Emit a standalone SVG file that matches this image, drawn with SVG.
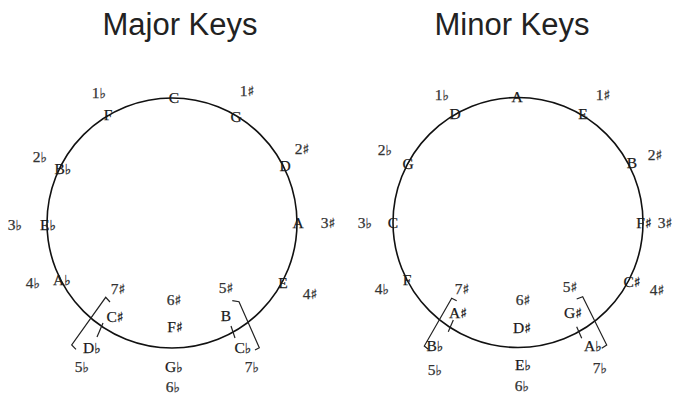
<svg xmlns="http://www.w3.org/2000/svg" width="676" height="395" viewBox="0 0 676 395">
<style>
.title{font-family:"Liberation Sans",Arial,sans-serif;font-size:31px;fill:#222;text-anchor:middle}
.n,.c{font-family:"Liberation Serif","DejaVu Serif",serif;font-size:15.5px;fill:#1a1a1a;stroke:#1a1a1a;stroke-width:0.25;text-anchor:middle}
.c{fill:#333;stroke:#333}
.a{font-family:"DejaVu Sans",sans-serif;font-size:14px}
.ring{fill:none;stroke:#111;stroke-width:1.6}
.br{fill:none;stroke:#222;stroke-width:1.2}
</style>
<rect width="676" height="395" fill="#fff"/>
<text class="title" x="180" y="35">Major Keys</text>
<text class="title" x="512" y="35">Minor Keys</text>

<g id="major-circle"><circle class="ring" cx="172" cy="223" r="125"/></g>
<g id="minor-circle"><circle class="ring" cx="518" cy="222.5" r="125"/></g>

<g id="connectors">
  <polyline class="br" points="110,302 105.7,297.3 71.7,345 76,349.3"/>
  <line class="br" x1="103" y1="323" x2="97" y2="337"/>
  <polyline class="br" points="232.3,300.7 239,301.7 259.3,347.7 255,350"/>
  <line class="br" x1="231" y1="326" x2="235" y2="338"/>
  <polyline class="br" points="456.7,300.7 451.7,298.3 424.3,346 428.3,349.3"/>
  <line class="br" x1="453.3" y1="320" x2="448.3" y2="331.7"/>
  <polyline class="br" points="576.7,299 582.7,296.7 606.7,345 601.7,348.3"/>
  <line class="br" x1="576.7" y1="326.7" x2="581.7" y2="338.3"/>
</g>

<g id="major">
  <g id="maj-C"><text class="n" x="174" y="103">C</text></g>
  <g id="maj-G"><text class="n" x="236" y="122">G</text><text class="c" x="247" y="96">1<tspan class="a">♯</tspan></text></g>
  <g id="maj-D"><text class="n" x="285" y="171">D</text><text class="c" x="302" y="154">2<tspan class="a">♯</tspan></text></g>
  <g id="maj-A"><text class="n" x="298" y="228">A</text><text class="c" x="328" y="228">3<tspan class="a">♯</tspan></text></g>
  <g id="maj-E"><text class="n" x="283" y="288">E</text><text class="c" x="310" y="299">4<tspan class="a">♯</tspan></text></g>
  <g id="maj-B"><text class="n" x="226" y="321">B</text><text class="c" x="226" y="293">5<tspan class="a">♯</tspan></text></g>
  <g id="maj-Cb"><text class="n" x="243" y="353">C<tspan class="a">♭</tspan></text><text class="c" x="252" y="372">7<tspan class="a">♭</tspan></text></g>
  <g id="maj-Fs"><text class="n" x="175" y="332">F<tspan class="a">♯</tspan></text><text class="c" x="174" y="305">6<tspan class="a">♯</tspan></text></g>
  <g id="maj-Gb"><text class="n" x="174" y="372">G<tspan class="a">♭</tspan></text><text class="c" x="173" y="392">6<tspan class="a">♭</tspan></text></g>
  <g id="maj-Cs"><text class="n" x="115" y="322">C<tspan class="a">♯</tspan></text><text class="c" x="118" y="294">7<tspan class="a">♯</tspan></text></g>
  <g id="maj-Db"><text class="n" x="92" y="353">D<tspan class="a">♭</tspan></text><text class="c" x="82" y="372">5<tspan class="a">♭</tspan></text></g>
  <g id="maj-Ab"><text class="n" x="62" y="285">A<tspan class="a">♭</tspan></text><text class="c" x="33" y="288">4<tspan class="a">♭</tspan></text></g>
  <g id="maj-Eb"><text class="n" x="48" y="230">E<tspan class="a">♭</tspan></text><text class="c" x="15" y="230">3<tspan class="a">♭</tspan></text></g>
  <g id="maj-Bb"><text class="n" x="63" y="174">B<tspan class="a">♭</tspan></text><text class="c" x="40" y="162">2<tspan class="a">♭</tspan></text></g>
  <g id="maj-F"><text class="n" x="108" y="120">F</text><text class="c" x="99" y="98">1<tspan class="a">♭</tspan></text></g>
</g>

<g id="minor">
  <g id="min-A"><text class="n" x="517" y="102">A</text></g>
  <g id="min-E"><text class="n" x="583" y="119">E</text><text class="c" x="603" y="100">1<tspan class="a">♯</tspan></text></g>
  <g id="min-B"><text class="n" x="632" y="168">B</text><text class="c" x="655" y="160">2<tspan class="a">♯</tspan></text></g>
  <g id="min-Fs"><text class="n" x="644" y="228">F<tspan class="a">♯</tspan></text><text class="c" x="665" y="228">3<tspan class="a">♯</tspan></text></g>
  <g id="min-Cs"><text class="n" x="632" y="287">C<tspan class="a">♯</tspan></text><text class="c" x="657" y="295">4<tspan class="a">♯</tspan></text></g>
  <g id="min-Gs"><text class="n" x="573" y="318">G<tspan class="a">♯</tspan></text><text class="c" x="570" y="292">5<tspan class="a">♯</tspan></text></g>
  <g id="min-Ab"><text class="n" x="593" y="351">A<tspan class="a">♭</tspan></text><text class="c" x="600" y="373">7<tspan class="a">♭</tspan></text></g>
  <g id="min-Ds"><text class="n" x="522" y="333">D<tspan class="a">♯</tspan></text><text class="c" x="523" y="305">6<tspan class="a">♯</tspan></text></g>
  <g id="min-Eb"><text class="n" x="523" y="370">E<tspan class="a">♭</tspan></text><text class="c" x="522" y="391">6<tspan class="a">♭</tspan></text></g>
  <g id="min-As"><text class="n" x="458" y="318">A<tspan class="a">♯</tspan></text><text class="c" x="462" y="294">7<tspan class="a">♯</tspan></text></g>
  <g id="min-Bb"><text class="n" x="435" y="351">B<tspan class="a">♭</tspan></text><text class="c" x="435" y="375">5<tspan class="a">♭</tspan></text></g>
  <g id="min-F"><text class="n" x="407" y="285">F</text><text class="c" x="382" y="294">4<tspan class="a">♭</tspan></text></g>
  <g id="min-C"><text class="n" x="393" y="228">C</text><text class="c" x="365" y="228">3<tspan class="a">♭</tspan></text></g>
  <g id="min-G"><text class="n" x="408" y="169">G</text><text class="c" x="385" y="155">2<tspan class="a">♭</tspan></text></g>
  <g id="min-D"><text class="n" x="455" y="119">D</text><text class="c" x="442" y="100">1<tspan class="a">♭</tspan></text></g>
</g>
</svg>
